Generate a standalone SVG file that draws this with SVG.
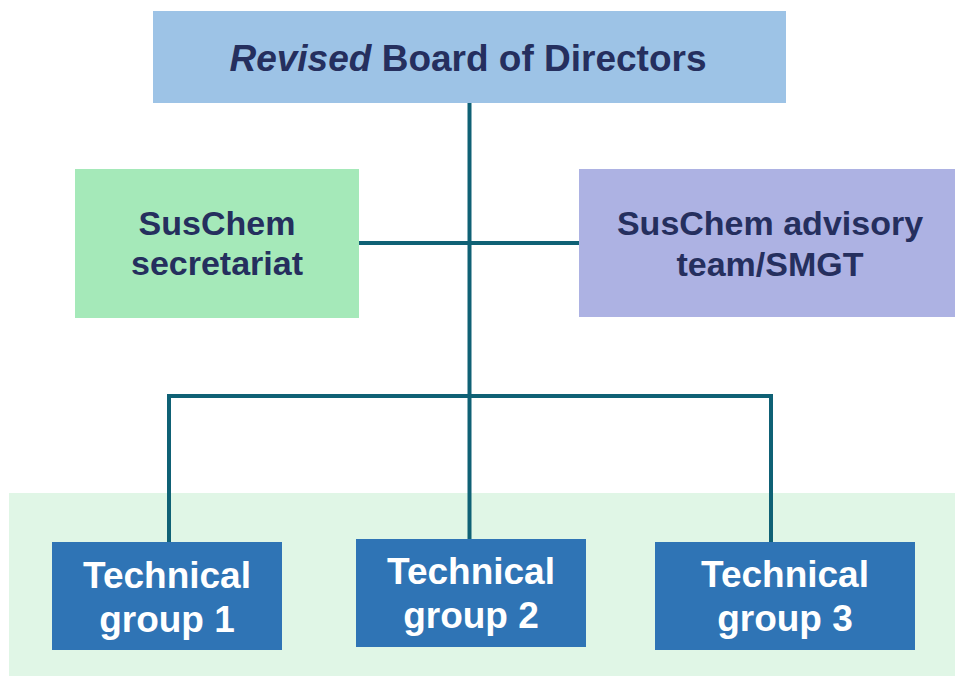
<svg xmlns="http://www.w3.org/2000/svg" width="955" height="676" viewBox="0 0 955 676">
<style>
.t{font-family:"Liberation Sans",Arial,sans-serif;font-weight:bold;text-anchor:middle}
.dk{fill:#252f5e;font-size:34px}
.wh{fill:#ffffff;font-size:37px}
.ln{stroke:#0f6175;stroke-width:4;fill:none}
.tg{fill:#2f74b5}
</style>
<rect x="9" y="493" width="946" height="183" fill="#e0f6e6"/>
<g id="connectors">
<line class="ln" x1="469.5" y1="103" x2="469.5" y2="541"/>
<line class="ln" x1="359" y1="243" x2="579" y2="243"/>
<polyline class="ln" points="169,542 169,396 771,396 771,542"/>
</g>
<g id="board">
<rect x="153" y="11" width="633" height="92" fill="#9dc3e6"/>
<text class="t dk" x="468" y="71" style="font-size:37px"><tspan font-style="italic">Revised</tspan> Board of Directors</text>
</g>
<g id="secretariat">
<rect x="75" y="169" width="284" height="149" fill="#a5e9b9"/>
<text class="t dk" x="217" y="235">SusChem</text>
<text class="t dk" x="217" y="275">secretariat</text>
</g>
<g id="advisory">
<rect x="579" y="169" width="376" height="148" fill="#adb2e3"/>
<text class="t dk" x="770" y="235">SusChem advisory</text>
<text class="t dk" x="770" y="276">team/SMGT</text>
</g>
<g id="tg1">
<rect class="tg" x="52" y="542" width="230" height="108"/>
<text class="t wh" x="167" y="588">Technical</text>
<text class="t wh" x="167" y="632">group 1</text>
</g>
<g id="tg2">
<rect class="tg" x="356" y="539" width="230" height="108"/>
<text class="t wh" x="471" y="584">Technical</text>
<text class="t wh" x="471" y="628">group 2</text>
</g>
<g id="tg3">
<rect class="tg" x="655" y="542" width="260" height="108"/>
<text class="t wh" x="785" y="587">Technical</text>
<text class="t wh" x="785" y="631">group 3</text>
</g>
</svg>
